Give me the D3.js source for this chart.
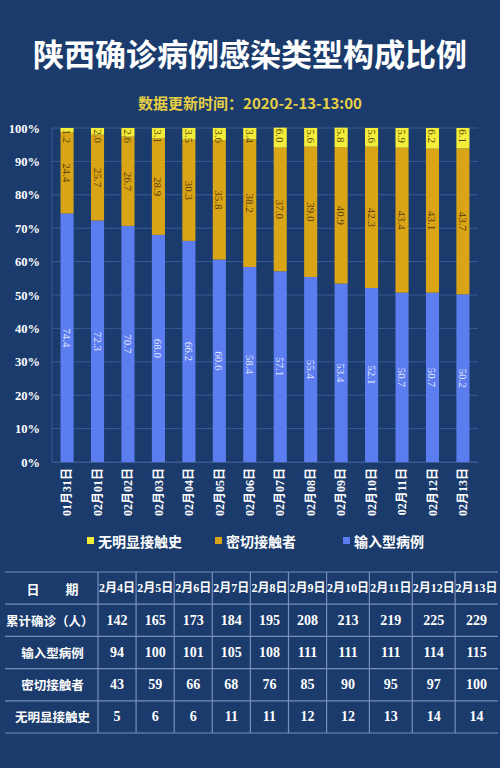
<!DOCTYPE html>
<html>
<head>
<meta charset="utf-8">
<script src="https://cdn.jsdelivr.net/npm/d3@7"></script>
<style>
  html, body { margin: 0; padding: 0; background: #1a3b6c; }
  svg { display: block; }
</style>
</head>
<body>
<div id="chart"></div>
<script>
// ---- chart data ----
const dates = ['01月31日','02月01日','02月02日','02月03日','02月04日','02月05日','02月06日',
               '02月07日','02月08日','02月09日','02月10日','02月11日','02月12日','02月13日'];
const imported = [74.4, 72.3, 70.7, 68.0, 66.2, 60.6, 58.4, 57.1, 55.4, 53.4, 52.1, 50.7, 50.7, 50.2];
const contacts = [24.4, 25.7, 26.7, 28.9, 30.3, 35.8, 38.2, 37.0, 39.0, 40.9, 42.3, 43.4, 43.1, 43.7];
const unknown  = [1.2, 2.0, 2.6, 3.1, 3.5, 3.6, 3.4, 6.0, 5.6, 5.8, 5.6, 5.9, 6.2, 6.1];
const yTicks = [0, 10, 20, 30, 40, 50, 60, 70, 80, 90, 100];
const seriesNames = ['无明显接触史', '密切接触者', '输入型病例'];

// ---- table data ----
const tableDates = ['2月4日','2月5日','2月6日','2月7日','2月8日','2月9日','2月10日','2月11日','2月12日','2月13日'];
const rowLabels = ['累计确诊（人）', '输入型病例', '密切接触者', '无明显接触史'];
const totalCases = [142, 165, 173, 184, 195, 208, 213, 219, 225, 229];
const importedCases = [94, 100, 101, 105, 108, 111, 111, 111, 114, 115];
const contactCases = [43, 59, 66, 68, 76, 85, 90, 95, 97, 100];
const unknownCases = [5, 6, 6, 11, 11, 12, 12, 13, 14, 14];

const W = 500, H = 768;
const bg = '#1a3b6c';
const colors = { imported: '#5b7df0', contacts: '#d9a516', unknown: '#f4ee3a' };
const cjk = '"Noto Sans CJK SC", "Noto Sans", sans-serif';
const serif = '"Liberation Serif", "DejaVu Serif", "Noto Sans CJK SC", serif';

const svg = d3.select('#chart').append('svg')
  .attr('width', W).attr('height', H);

svg.append('rect').attr('width', W).attr('height', H).attr('fill', bg);

// titles
svg.append('text')
  .attr('x', W/2).attr('y', 66)
  .attr('text-anchor', 'middle')
  .attr('fill', '#ffffff')
  .style('font', `bold 31px ${cjk}`)
  .text('陕西确诊病例感染类型构成比例');

svg.append('text')
  .attr('x', W/2).attr('y', 109)
  .attr('text-anchor', 'middle')
  .attr('fill', '#e7cf45')
  .style('font', `bold 15px ${cjk}`)
  .text('数据更新时间：2020-2-13-13:00');

// ---- stacked bar chart ----
const plot = { left: 52, right: 478, top: 128, bottom: 462 };

const x = d3.scaleBand()
  .domain(dates)
  .range([plot.left, plot.right])
  .paddingInner(0.57)
  .paddingOuter(0.28);

const y = d3.scaleLinear()
  .domain([0, 100])
  .range([plot.bottom, plot.top]);

const rows = dates.map((d, i) => ({
  date: d, imported: imported[i], contacts: contacts[i], unknown: unknown[i]
}));
const keys = ['imported', 'contacts', 'unknown'];
const stack = d3.stack().keys(keys)(rows);

// grid
svg.append('g')
  .selectAll('line')
  .data(yTicks)
  .enter().append('line')
    .attr('x1', plot.left).attr('x2', plot.right)
    .attr('y1', d => y(d)).attr('y2', d => y(d))
    .attr('stroke', '#3b5b93')
    .attr('stroke-width', 1);

svg.append('line')
  .attr('x1', plot.left).attr('x2', plot.left)
  .attr('y1', plot.top).attr('y2', plot.bottom)
  .attr('stroke', '#3b5b93');

// y axis
const yAxis = svg.append('g')
  .attr('transform', `translate(${plot.left - 4},0)`)
  .call(d3.axisLeft(y).tickValues(yTicks).tickFormat(d => d + '%').tickSize(0).tickPadding(8));
yAxis.select('.domain').remove();
yAxis.selectAll('text')
  .attr('fill', '#ffffff')
  .style('font', `bold 12.5px ${serif}`);

// bars
const layer = svg.append('g')
  .selectAll('g')
  .data(stack)
  .enter().append('g')
    .attr('fill', d => colors[d.key]);

layer.selectAll('rect')
  .data(d => d)
  .enter().append('rect')
    .attr('x', d => x(d.data.date))
    .attr('width', x.bandwidth())
    .attr('y', d => y(d[1]))
    .attr('height', d => y(d[0]) - y(d[1]));

// value labels, rotated
const labelColor = { imported: '#e3e8ff', contacts: '#5a3c05', unknown: '#5a4a05' };
const labels = svg.append('g')
  .selectAll('g')
  .data(stack)
  .enter().append('g')
    .attr('fill', d => labelColor[d.key]);

labels.selectAll('text')
  .data(d => d.map(v => ({ v, key: d.key })))
  .enter().append('text')
    .attr('transform', d => {
      const cx = x(d.v.data.date) + x.bandwidth() / 2;
      let cy = (y(d.v[0]) + y(d.v[1])) / 2;
      if (d.key === 'unknown') cy = y(d.v[1]) + 8;
      return `translate(${cx},${cy}) rotate(90)`;
    })
    .attr('text-anchor', 'middle')
    .attr('dominant-baseline', 'central')
    .style('font', `11px ${serif}`)
    .text(d => d.v.data[d.key].toFixed(1));

// x axis labels
const xAxis = svg.append('g')
  .attr('transform', `translate(0,${plot.bottom})`)
  .call(d3.axisBottom(x).tickSize(0).tickPadding(0));
xAxis.select('.domain').attr('stroke', '#3b5b93');
xAxis.selectAll('text')
  .attr('transform', 'translate(0,6) rotate(-90)')
  .attr('text-anchor', 'end')
  .attr('dy', '0.35em')
  .attr('x', 0).attr('y', 0)
  .attr('fill', '#ffffff')
  .style('font', `bold 12px ${serif}`);

// legend
const legendItems = [
  { name: seriesNames[0], color: colors.unknown },
  { name: seriesNames[1], color: colors.contacts },
  { name: seriesNames[2], color: colors.imported }
];
const legendX = d3.scalePoint().domain(seriesNames).range([87, 343]);
const legend = svg.append('g')
  .selectAll('g')
  .data(legendItems)
  .enter().append('g')
    .attr('transform', d => `translate(${legendX(d.name)},541)`);
legend.append('rect')
  .attr('x', 0).attr('y', -4)
  .attr('width', 7).attr('height', 7)
  .attr('fill', d => d.color);
legend.append('text')
  .attr('x', 11).attr('y', 0)
  .attr('dominant-baseline', 'central')
  .attr('fill', '#ffffff')
  .style('font', `bold 14px ${cjk}`)
  .text(d => d.name);

// ---- table ----
const table = { left: 5, right: 498, top: 572, bottom: 733, labelRight: 98 };
const rowKeys = ['header'].concat(rowLabels);
const ty = d3.scaleBand()
  .domain(rowKeys)
  .range([table.top, table.bottom]);

// column widths grow a little with the label length
const weights = tableDates.map(d => d.length + 4);
const cum = d3.cumsum(weights);
const totalW = cum[cum.length - 1];
const colScale = d3.scaleLinear().domain([0, totalW]).range([table.labelRight, table.right]);
const colX0 = tableDates.map((d, i) => colScale(i === 0 ? 0 : cum[i - 1]));
const colX1 = tableDates.map((d, i) => colScale(cum[i]));

const tg = svg.append('g');

// horizontal rules
tg.selectAll('line.h')
  .data(rowKeys.map(k => ty(k)).concat([table.bottom]))
  .enter().append('line')
    .attr('class', 'h')
    .attr('x1', table.left).attr('x2', table.right)
    .attr('y1', d => d).attr('y2', d => d)
    .attr('stroke', '#7890bb').attr('stroke-width', 1.2);

// vertical rules
tg.selectAll('line.v')
  .data(colX0)
  .enter().append('line')
    .attr('class', 'v')
    .attr('x1', d => d).attr('x2', d => d)
    .attr('y1', table.top).attr('y2', table.bottom)
    .attr('stroke', '#7890bb').attr('stroke-width', 1.2);

// header
tg.append('text')
  .attr('x', (table.left + table.labelRight) / 2 + 1)
  .attr('y', ty('header') + ty.bandwidth() / 2)
  .attr('text-anchor', 'middle')
  .attr('dominant-baseline', 'central')
  .attr('fill', '#ffffff')
  .style('font', `bold 13px ${cjk}`)
  .text('日　　期');

tg.selectAll('text.date')
  .data(tableDates)
  .enter().append('text')
    .attr('class', 'date')
    .attr('x', (d, i) => (colX0[i] + colX1[i]) / 2)
    .attr('y', ty('header') + ty.bandwidth() / 2)
    .attr('text-anchor', 'middle')
    .attr('dominant-baseline', 'central')
    .attr('fill', '#ffffff')
    .style('font', `bold 12px ${serif}`)
    .text(d => d);

// row labels
tg.selectAll('text.rowlabel')
  .data(rowLabels)
  .enter().append('text')
    .attr('class', 'rowlabel')
    .attr('x', (d, i) => i === 0 ? table.left + 1 : (table.left + table.labelRight) / 2 + 1)
    .attr('y', d => ty(d) + ty.bandwidth() / 2)
    .attr('text-anchor', (d, i) => i === 0 ? 'start' : 'middle')
    .attr('dominant-baseline', 'central')
    .attr('fill', '#ffffff')
    .style('font', `bold 12.5px ${cjk}`)
    .text(d => d);

// values
const tableValues = [totalCases, importedCases, contactCases, unknownCases];
tableValues.forEach((vals, r) => {
  tg.selectAll(`text.val${r}`)
    .data(vals)
    .enter().append('text')
      .attr('class', `val${r}`)
      .attr('x', (d, i) => (colX0[i] + colX1[i]) / 2)
      .attr('y', ty(rowLabels[r]) + ty.bandwidth() / 2)
      .attr('text-anchor', 'middle')
      .attr('dominant-baseline', 'central')
      .attr('fill', '#ffffff')
      .style('font', `bold 14px ${serif}`)
      .text(d => d);
});
</script>
</body>
</html>
